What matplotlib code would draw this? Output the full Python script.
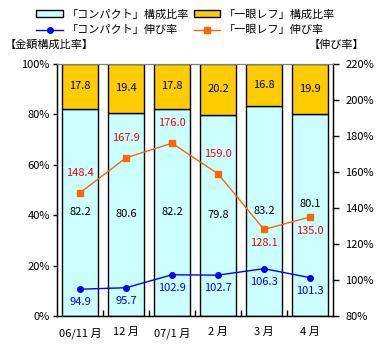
import numpy as np
import matplotlib.pyplot as plt
from matplotlib.patches import Patch
from matplotlib.lines import Line2D

plt.rcParams['font.family'] = ['Noto Sans CJK JP', 'DejaVu Sans']

months = ['06/11 月', '12 月', '07/1 月', '2 月', '3 月', '4 月']
compact_share = [82.2, 80.6, 82.2, 79.8, 83.2, 80.1]
slr_share = [17.8, 19.4, 17.8, 20.2, 16.8, 19.9]
compact_growth = [94.9, 95.7, 102.9, 102.7, 106.3, 101.3]
slr_growth = [148.4, 167.9, 176.0, 159.0, 128.1, 135.0]

c_cyan = '#CCFFFF'
c_gold = '#FFCC00'
c_blue = '#0000FF'
c_orange = '#FF6600'
fs = 8

fig = plt.figure(figsize=(3.76, 3.5), dpi=100)
ax = fig.add_axes([57/376, 34/350, 276/376, 252/350])
x = np.arange(len(months))

ax.bar(x, compact_share, width=0.8, color=c_cyan, edgecolor='black', lw=1)
ax.bar(x, slr_share, width=0.8, bottom=compact_share, color=c_gold, edgecolor='black', lw=1)
ax.set_xlim(-0.5, 5.5)
ax.set_ylim(0, 100)
ax.set_yticks(np.arange(0, 101, 20))
ax.set_yticklabels([f'{v}%' for v in range(0, 101, 20)], fontsize=fs)
ax.set_xticks(x)
ax.set_xticklabels(months, fontsize=fs)
ax.tick_params(axis='x', length=0, pad=8)
ax.set_xticks(np.arange(0.5, 5, 1), minor=True)
ax.tick_params(axis='x', which='minor', direction='in', length=4, width=1)
ax.tick_params(axis='y', length=3, width=1, pad=2)
for s in ['left', 'bottom', 'right']:
    ax.spines[s].set_linewidth(1)
ax.spines['top'].set_color('#808080')

for i in range(len(months)):
    yc = compact_share[i] / 2
    if i == 5:
        yc = 44.4
    ax.text(x[i], yc, f'{compact_share[i]:.1f}', ha='center', va='center', fontsize=fs)
    ax.text(x[i], compact_share[i] + slr_share[i] / 2, f'{slr_share[i]:.1f}',
            ha='center', va='center', fontsize=fs)

ax2 = ax.twinx()
ax2.set_ylim(80, 220)
ax2.set_yticks(np.arange(80, 221, 20))
ax2.set_yticklabels([f'{v}%' for v in range(80, 221, 20)], fontsize=fs)
ax2.tick_params(axis='y', length=4, width=1, pad=5)
ax2.spines['top'].set_color('#808080')
ax2.plot(x, compact_growth, color=c_blue, lw=1, marker='o', ms=4)
ax2.plot(x, slr_growth, color=c_orange, lw=1, marker='s', ms=5)

for i in range(len(months)):
    ax2.annotate(f'{compact_growth[i]:.1f}', (x[i], compact_growth[i]), xytext=(0, -13),
                 textcoords='offset pixels', ha='center', va='center', fontsize=fs, color=c_blue)
    dy = 20 if i < 4 else -14
    ax2.annotate(f'{slr_growth[i]:.1f}', (x[i], slr_growth[i]), xytext=(0, dy),
                 textcoords='offset pixels', ha='center', va='center', fontsize=fs, color='#FF0000')

handles = [Patch(facecolor=c_cyan, edgecolor='black', lw=1),
           Line2D([], [], color=c_blue, lw=1, marker='o', ms=4),
           Patch(facecolor=c_gold, edgecolor='black', lw=1),
           Line2D([], [], color=c_orange, lw=1, marker='s', ms=5)]
labels = ['「コンパクト」構成比率', '「コンパクト」伸び率', '「一眼レフ」構成比率', '「一眼レフ」伸び率']
fig.legend(handles, labels, ncol=2, loc='upper left', bbox_to_anchor=(27/376, 1.0),
           frameon=False, fontsize=fs, handlelength=2.4, handleheight=0.6,
           columnspacing=0.45, labelspacing=0.5, handletextpad=0.3, borderaxespad=0.45)

fig.text(5/376, 1 - 45/350, '【金額構成比率】', fontsize=fs, va='center', ha='left')
fig.text(364/376, 1 - 45/350, '【伸び率】', fontsize=fs, va='center', ha='right')

fig.savefig('out.png', dpi=100)
